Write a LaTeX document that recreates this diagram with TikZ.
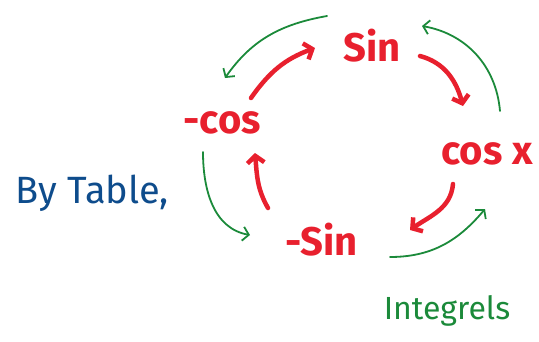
\documentclass[tikz,border=0pt]{standalone}
\usepackage{fontspec}
\setmainfont{Fira Sans}
\usetikzlibrary{arrows.meta}
\definecolor{penred}{HTML}{E8202E}
\definecolor{pengreen}{HTML}{1B8A3A}
\definecolor{penblue}{HTML}{0E4C8C}
\begin{document}
\begin{tikzpicture}[x=1pt, y=1pt,
    redword/.style={text=penred, inner sep=0pt, font=\fontsize{40}{40}\selectfont\bfseries},
    redarrow/.style={-{Straight Barb[length=7pt, width=17pt]}, draw=penred, line width=4.5pt, line cap=round},
    greenarrow/.style={-{Straight Barb[length=6pt, width=14pt]}, draw=pengreen, line width=1.8pt, line cap=round}]
  \useasboundingbox (0,0) rectangle (539,-341);

  % Derivative Cycle Words
  \node[redword] (sin) at (372,-46) {Sin};
  \node[redword] (cosx) at (487,-154) {cos x};
  \node[redword] (mcos) at (222,-123) {-cos};
  \node[redword] (msin) at (322,-240) {-Sin};

  % Side Notes
  \node[text=penblue, font=\fontsize{38}{38}\selectfont] (table) at (92,-193) {By Table,};
  \node[text=pengreen, font=\fontsize{32}{32}\selectfont] (integ) at (447,-311) {Integrels};

  % Red Arrows (Clockwise)
  \draw[redarrow] ([shift={(29,25)}]mcos.center) to[out=55, in=200] ([shift={(-57,-2)}]sin.center);
  \draw[redarrow] ([shift={(48,-10)}]sin.center) to[out=-15, in=105] ([shift={(-24,48)}]cosx.center);
  \draw[redarrow] ([shift={(-34,-30)}]cosx.center) to[out=-95, in=35] ([shift={(88,10)}]msin.center);
  \draw[redarrow] ([shift={(-54,32)}]msin.center) to[out=120, in=-85] ([shift={(33,-30)}]mcos.center);

  % Green Arrows (Counterclockwise)
  \draw[greenarrow] ([shift={(-45,30)}]sin.center) to[out=190, in=55] ([shift={(3,45)}]mcos.center);
  \draw[greenarrow] ([shift={(13,43)}]cosx.center) to[out=95, in=-10] ([shift={(50,20)}]sin.center);
  \draw[greenarrow] ([shift={(-19,-29)}]mcos.center) to[out=-90, in=170] ([shift={(-72,5)}]msin.center);
  \draw[greenarrow] ([shift={(68,-17)}]msin.center) to[out=0, in=-130] ([shift={(-2,-55)}]cosx.center);

\end{tikzpicture}
\end{document}
